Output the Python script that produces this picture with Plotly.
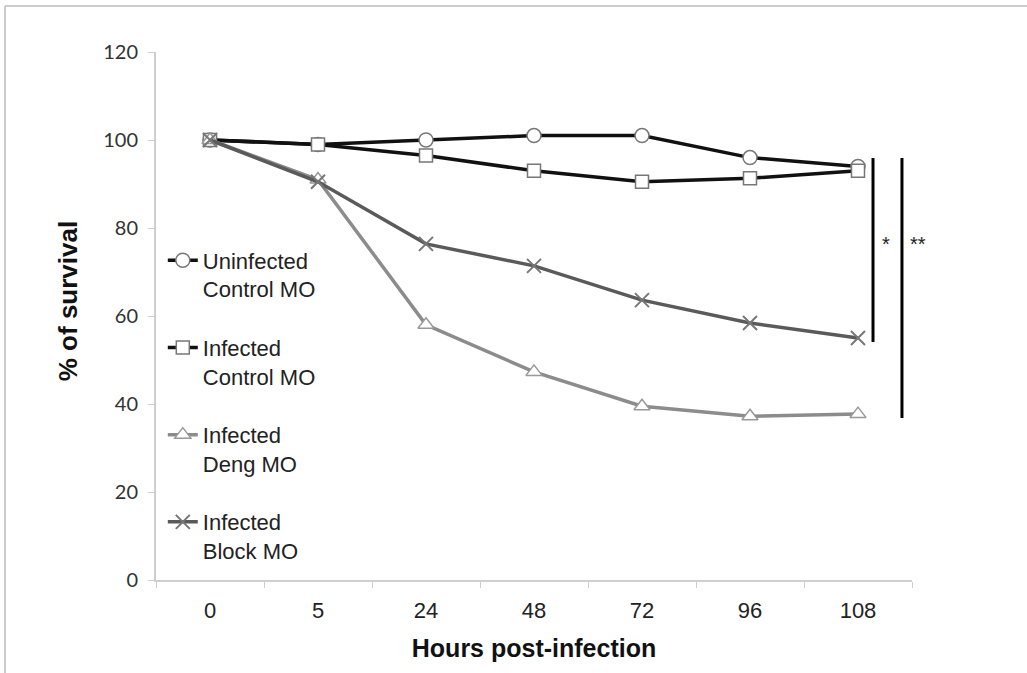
import plotly.graph_objects as go

hours = ["0", "5", "24", "48", "72", "96", "108"]
uninfected_control = [100, 99, 100, 101, 101, 96, 94]
infected_control = [100, 99, 96.5, 93, 90.5, 91.3, 93]
infected_deng = [100, 91, 58, 47.3, 39.5, 37.2, 37.7]
infected_block = [100, 90.5, 76.4, 71.4, 63.6, 58.4, 55]

names = ["Uninfected<br>Control MO", "Infected<br>Control MO", "Infected<br>Deng MO", "Infected<br>Block MO"]
series = [uninfected_control, infected_control, infected_deng, infected_block]
line_colors = ["#111111", "#111111", "#8c8c8c", "#5a5a5a"]
symbols = ["circle", "square", "triangle-up", "x-thin"]
msizes = [14, 13, 14, 14]
mline = ["#777777", "#777777", "#999999", "#777777"]

fig = go.Figure()
for i, (nm, ys) in enumerate(zip(names, series)):
    fig.add_trace(go.Scatter(
        x=hours, y=ys, name=nm, mode="lines+markers", legendgroup=f"g{i}",
        line=dict(color=line_colors[i], width=3.5),
        marker=dict(symbol=symbols[i], size=msizes[i], color="white",
                    line=dict(color=mline[i], width=1.5 if symbols[i] != "x-thin" else 2)),
        cliponaxis=False,
    ))

axis_gray = "#cfcfcf"
fig.update_layout(
    width=1027, height=673,
    margin=dict(l=156, r=115, t=52, b=93),
    paper_bgcolor="white", plot_bgcolor="white",
    font=dict(family="Liberation Sans, Arial, sans-serif", color="#222"),
    showlegend=True,
    legend=dict(x=0.009, y=0.645, xanchor="left", yanchor="top",
                bgcolor="rgba(0,0,0,0)", font=dict(size=22, color="#222"),
                valign="top", tracegroupgap=27, itemwidth=30),
    xaxis=dict(type="category", range=[-0.5, 6.5], showgrid=False,
               showline=True, linecolor=axis_gray, linewidth=2,
               ticks="outside", tickson="boundaries", ticklen=6, tickcolor=axis_gray,
               tickfont=dict(size=22, color="#222"), ticklabelstandoff=10,
               title=dict(text="<b>Hours post-infection</b>", font=dict(size=25, color="#111"), standoff=17),
               zeroline=False, fixedrange=True),
    yaxis=dict(range=[0, 120], dtick=20, showgrid=False,
               showline=True, linecolor=axis_gray, linewidth=2,
               ticks="outside", ticklen=6, tickcolor=axis_gray,
               tickfont=dict(size=20, color="#333", family="Lato, Open Sans, sans-serif"),
               ticklabelstandoff=6,
               zeroline=False, fixedrange=True),
    shapes=[
        dict(type="line", xref="x", yref="y", x0=6.139, x1=6.139, y0=95.9, y1=54.1,
             line=dict(color="black", width=3)),
        dict(type="line", xref="x", yref="y", x0=6.407, x1=6.407, y0=95.9, y1=36.8,
             line=dict(color="black", width=3)),
        dict(type="line", xref="paper", yref="paper", x0=-0.1997, x1=1.16, y0=1.087, y1=1.087,
             line=dict(color="#cccccc", width=2)),
        dict(type="line", xref="paper", yref="paper", x0=-0.1997, x1=-0.1997, y0=1.087, y1=-0.2,
             line=dict(color="#cccccc", width=2)),
    ],
    annotations=[
        dict(x=-0.1164, y=0.528, xref="paper", yref="paper", text="<b>% of survival</b>",
             textangle=-90, showarrow=False, xanchor="center", yanchor="middle",
             font=dict(size=26, color="#111")),
        dict(x=0.9656, y=0.6366, xref="paper", yref="paper", text="*", showarrow=False,
             xanchor="center", font=dict(size=20, color="#222")),
        dict(x=0.9947, y=0.6366, xref="paper", yref="paper", text="**", showarrow=False,
             xanchor="left", font=dict(size=20, color="#222")),
    ],
)

fig.write_html("out.html")
